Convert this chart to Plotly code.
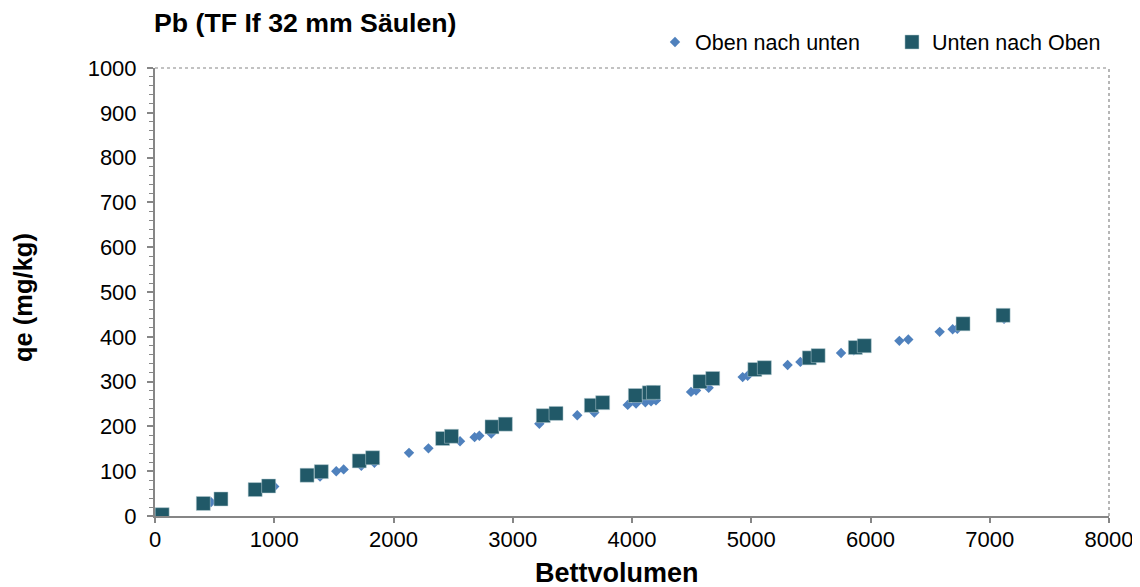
import plotly.graph_objects as go

# Oben nach unten (diamonds)
oben_x = [50, 470, 1000, 1384, 1520, 1582, 1730, 1840, 2130, 2293, 2558, 2680, 2720, 2820,
          3223, 3541, 3684, 3964, 4034, 4112, 4160, 4201, 4495, 4537, 4643, 4928, 4970,
          5305, 5412, 5753, 5860, 6242, 6317, 6580, 6689, 6728, 7120]
oben_y = [2, 31, 66, 88, 100, 104, 112, 119, 141, 151, 167, 176, 179, 184,
          206, 225, 231, 248, 251, 254, 256, 258, 277, 280, 286, 310, 313,
          337, 344, 364, 370, 391, 394, 411, 417, 418, 440]

# Unten nach Oben (squares)
unten_x = [60, 405, 553, 840, 953, 1275, 1395, 1713, 1825, 2412, 2486, 2826, 2938, 3256, 3363,
           3659, 3754, 4028, 4145, 4180, 4570, 4677, 5030, 5110, 5487, 5561, 5873, 5948, 6776, 7112]
unten_y = [3, 28, 38, 59, 67, 91, 99, 123, 130, 173, 178, 199, 205, 224, 229,
           247, 253, 269, 275, 276, 300, 307, 327, 331, 353, 358, 376, 380, 429, 448]

x_ticks = [0, 1000, 2000, 3000, 4000, 5000, 6000, 7000, 8000]
y_ticks = [0, 100, 200, 300, 400, 500, 600, 700, 800, 900, 1000]

FONT = "Liberation Sans, Arial, sans-serif"

fig = go.Figure()
fig.add_trace(go.Scatter(x=oben_x, y=oben_y, mode="markers", name="Oben nach unten",
                         legend="legend",
                         marker=dict(symbol="diamond", size=8, color="#4F81BD")))
fig.add_trace(go.Scatter(x=unten_x, y=unten_y, mode="markers", name="Unten nach Oben",
                         legend="legend2",
                         marker=dict(symbol="square", size=14, color="#215968",
                                     line=dict(width=0.5, color="#b8cfd4"))))

axis_font = dict(family=FONT, size=22, color="#000000")
leg_font = dict(family=FONT, size=21.5, color="#000000")
fig.update_layout(
    width=1140, height=587,
    paper_bgcolor="white", plot_bgcolor="white",
    margin=dict(l=147, r=39, t=60, b=79),
    font=dict(family=FONT, size=21, color="#000000"),
    title=dict(text="<b>Pb (TF If 32 mm Säulen)</b>", x=146/1140, xanchor="left",
               y=1 - 15/587, yanchor="middle", yref="container",
               font=dict(family=FONT, size=26.7, color="#000000")),
    showlegend=True,
    legend=dict(orientation="h", x=0.5241, xanchor="left", y=1.058, yanchor="middle",
                font=leg_font, bgcolor="rgba(0,0,0,0)", itemwidth=30),
    legend2=dict(orientation="h", x=0.7725, xanchor="left", y=1.058, yanchor="middle",
                 font=leg_font, bgcolor="rgba(0,0,0,0)", itemwidth=30),
    xaxis=dict(range=[0, 8000], tickvals=x_ticks, showgrid=False, zeroline=False,
               showline=True, linecolor="#868686", linewidth=2,
               ticks="outside", ticklen=5, tickcolor="#868686", tickwidth=1.5,
               tickfont=axis_font, ticklabelstandoff=-2),
    yaxis=dict(range=[0, 1000], tickvals=y_ticks, showgrid=False, zeroline=False,
               showline=True, linecolor="#868686", linewidth=2,
               ticks="outside", ticklen=6, tickcolor="#868686", tickwidth=1.5,
               minor=dict(dtick=20, ticks="outside", ticklen=4, tickcolor="#868686",
                          tickwidth=1.2, showgrid=False),
               tickfont=axis_font, ticklabelstandoff=6),
)

# axis titles
fig.add_annotation(text="<b>Bettvolumen</b>", xref="paper", yref="paper",
                   x=0.4843, y=-(565 - 508) / 448, xanchor="center", yanchor="middle",
                   showarrow=False, font=dict(family=FONT, size=27, color="#000000"))
fig.add_annotation(text="<b>qe (mg/kg)</b>", xref="paper", yref="paper",
                   x=(15 - 147) / 954, y=0.4866, xanchor="center", yanchor="middle",
                   textangle=-90, showarrow=False,
                   font=dict(family=FONT, size=25.5, color="#000000"))

# dotted top and right border
fig.add_shape(type="line", xref="paper", yref="paper", x0=0, x1=1, y0=1, y1=1,
              line=dict(color="#868686", width=1.2, dash="dot"))
fig.add_shape(type="line", xref="paper", yref="paper", x0=1, x1=1, y0=0, y1=1,
              line=dict(color="#868686", width=1.2, dash="dot"))

fig.write_html("out.html")
